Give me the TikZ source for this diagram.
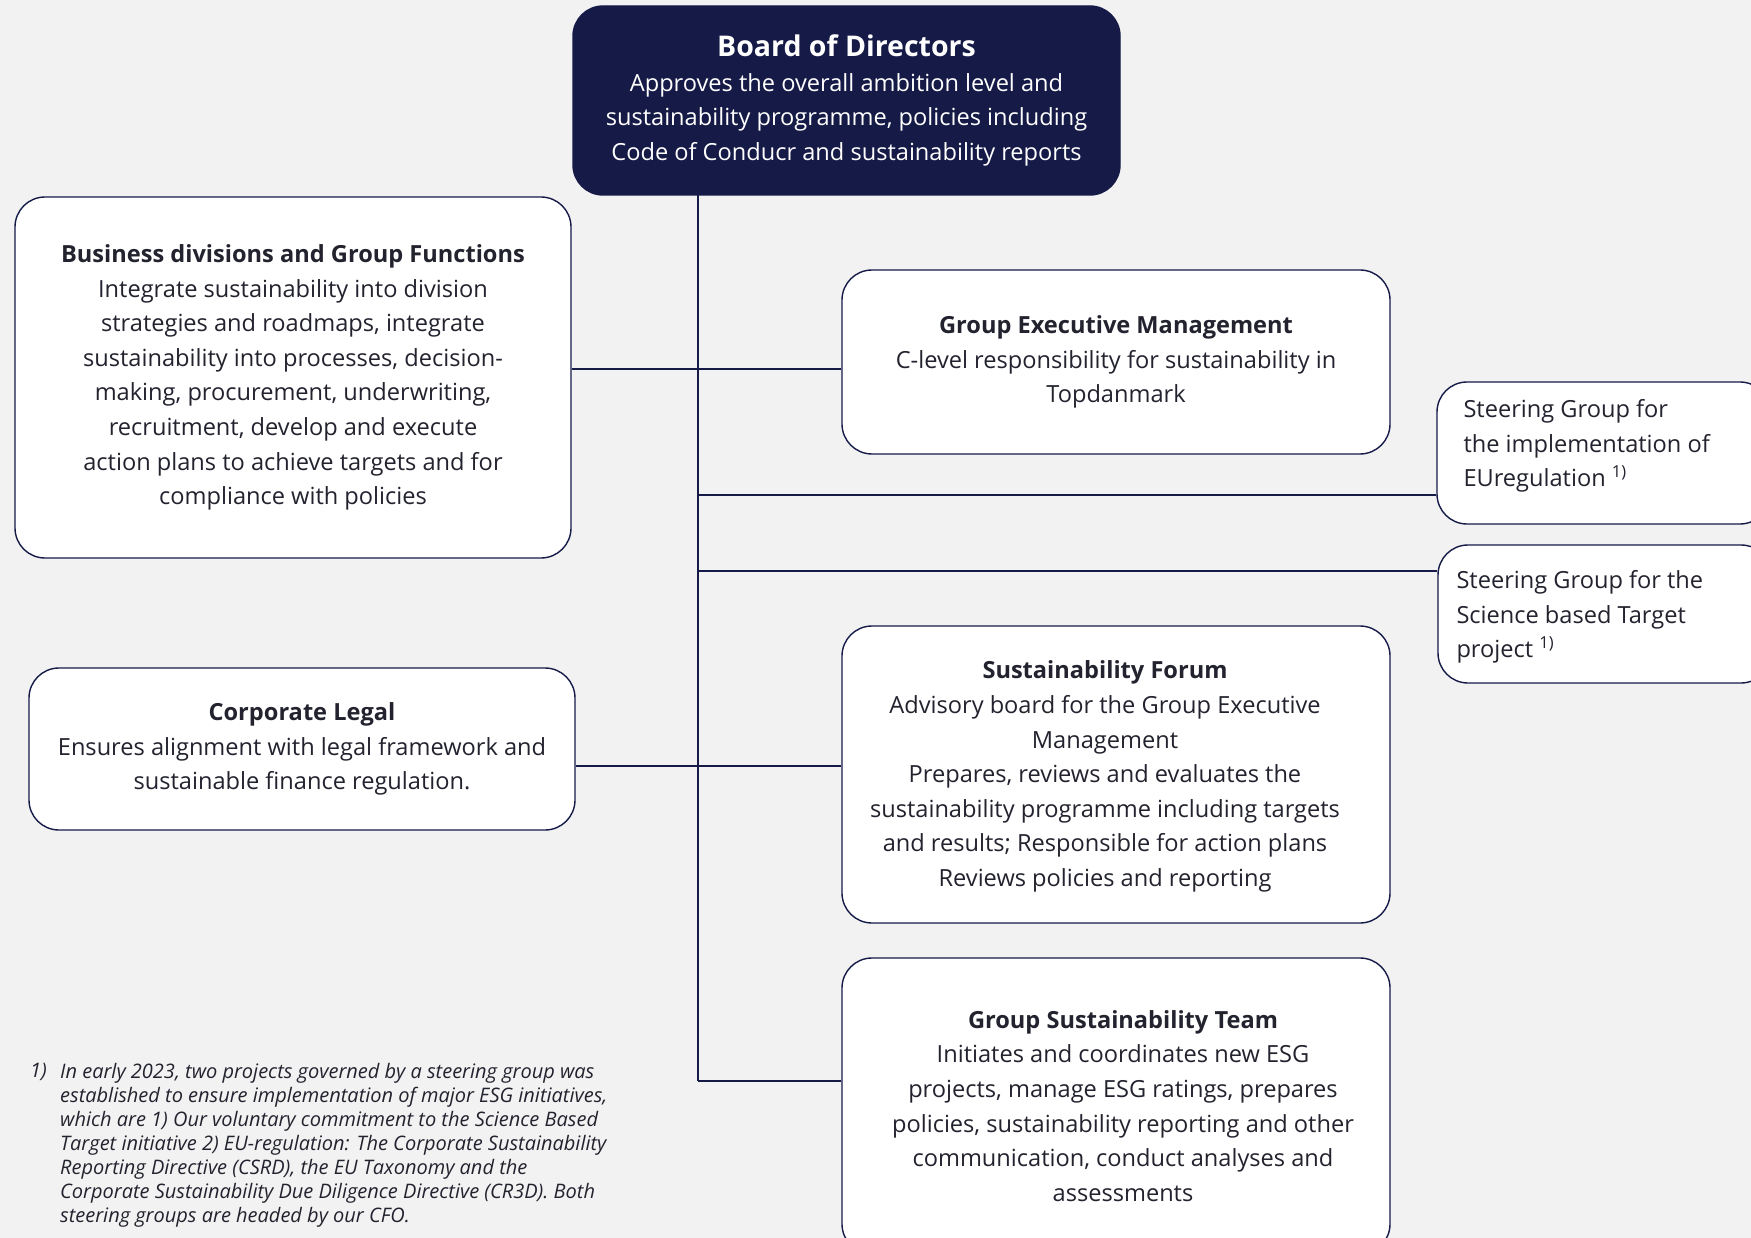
\documentclass[tikz,border=0pt]{standalone}
\usepackage{fontspec}
\setmainfont{Open Sans}
\usetikzlibrary{calc}
\definecolor{navy}{HTML}{151A47}
\definecolor{ink}{HTML}{22232E}
\definecolor{bg}{HTML}{F2F2F2}
\begin{document}
\begin{tikzpicture}[x=1pt,y=-1pt,
  box/.style={draw=navy, line width=1.4pt, fill=white, rounded corners=30pt, align=center, text=ink,
    font=\fontsize{23.6}{34.6}\selectfont, inner sep=0pt},
  btext/.style={align=center, text=ink, font=\fontsize{23.6}{34.6}\selectfont, inner sep=0pt},
  conn/.style={draw=navy, line width=1.4pt},
  sgtext/.style={align=left, text=ink, font=\fontsize{23.6}{34.6}\selectfont, inner sep=0pt, anchor=west},
  note/.style={align=left, text=ink, font=\fontsize{20}{24}\selectfont\itshape, inner sep=0pt}]
\fill[bg] (0,0) rectangle (1751,1238);
\useasboundingbox (0,0) rectangle (1751,1238);
\clip (0,0) rectangle (1751,1238);

% trunk
\coordinate (ttop) at (698,195);
\coordinate (tbot) at (698,1081);
\coordinate (j1) at (698,369);
\coordinate (j2) at (698,495);
\coordinate (j3) at (698,571);
\coordinate (j4) at (698,766);

\draw[conn] (ttop) -- (tbot);

% board
\node[box, fill=navy, draw=navy, text=white, minimum width=547, minimum height=189] (board) at (846.5,100.5)
  {{\fontsize{28.5}{36}\selectfont\bfseries Board of Directors}\\
   Approves the overall ambition level and\\
   sustainability programme, policies including\\
   Code of Conducr and sustainability reports};

\node[box, minimum width=556, minimum height=361] (bdg) at (293,377.5)
  {\textbf{Business divisions and Group Functions}\\
   Integrate sustainability into division\\
   strategies and roadmaps, integrate\\
   sustainability into processes, decision-\\
   making, procurement, underwriting,\\
   recruitment, develop and execute\\
   action plans to achieve targets and for\\
   compliance with policies};

\node[box, minimum width=548, minimum height=184] (gem) at (1116,362)
  {\textbf{Group Executive Management}\\
   C-level responsibility for sustainability in\\
   Topdanmark};

\node[box, minimum width=333, minimum height=142] (sgeu) at (1603.5,453) {};
\node[sgtext] (sgeut) at ($(sgeu.west)+(27,-7)$)
  {Steering Group for\\ the implementation of\\ EUregulation \textsuperscript{1)}};

\node[box, minimum width=333, minimum height=138] (sgsbt) at (1604.5,614) {};
\node[sgtext] (sgsbtt) at ($(sgsbt.west)+(19,3)$)
  {Steering Group for the\\ Science based Target\\ project \textsuperscript{1)}};

\node[box, minimum width=546, minimum height=162] (legal) at (302,749)
  {\textbf{Corporate Legal}\\
   Ensures alignment with legal framework and\\
   sustainable finance regulation.};

\node[box, minimum width=548, minimum height=297] (forum) at (1116,774.5) {};
\node[btext] (forumt) at ($(forum.center)+(-11,2)$)
  {\textbf{Sustainability Forum}\\
   Advisory board for the Group Executive\\
   Management\\
   Prepares, reviews and evaluates the\\
   sustainability programme including targets\\
   and results; Responsible for action plans\\
   Reviews policies and reporting};

\node[box, minimum width=548, minimum height=296] (gst) at (1116,1106) {};
\node[btext] (gstt) at ($(gst.center)+(7,0)$)
  {\textbf{Group Sustainability Team}\\
   Initiates and coordinates new ESG\\
   projects, manage ESG ratings, prepares\\
   policies, sustainability reporting and other\\
   communication, conduct analyses and\\
   assessments};

% connectors
\draw[conn] (bdg.east |- j1) -- (gem.west |- j1);
\draw[conn] (j2) -- (sgeu.west |- j2);
\draw[conn] (j3) -- (sgsbt.west |- j3);
\draw[conn] (legal.east |- j4) -- (forum.west |- j4);
\draw[conn] (tbot) -- (gst.west |- tbot);

% footnote
\node[note, anchor=north west] (fnum) at (30,1063) {1)};
\node[note, anchor=north west] (fnote) at (60,1063)
  {In early 2023, two projects governed by a steering group was\\
   established to ensure implementation of major ESG initiatives,\\
   which are 1) Our voluntary commitment to the Science Based\\
   Target initiative 2) EU-regulation: The Corporate Sustainability\\
   Reporting Directive (CSRD), the EU Taxonomy and the\\
   Corporate Sustainability Due Diligence Directive (CR3D). Both\\
   steering groups are headed by our CFO.};
\end{tikzpicture}
\end{document}
